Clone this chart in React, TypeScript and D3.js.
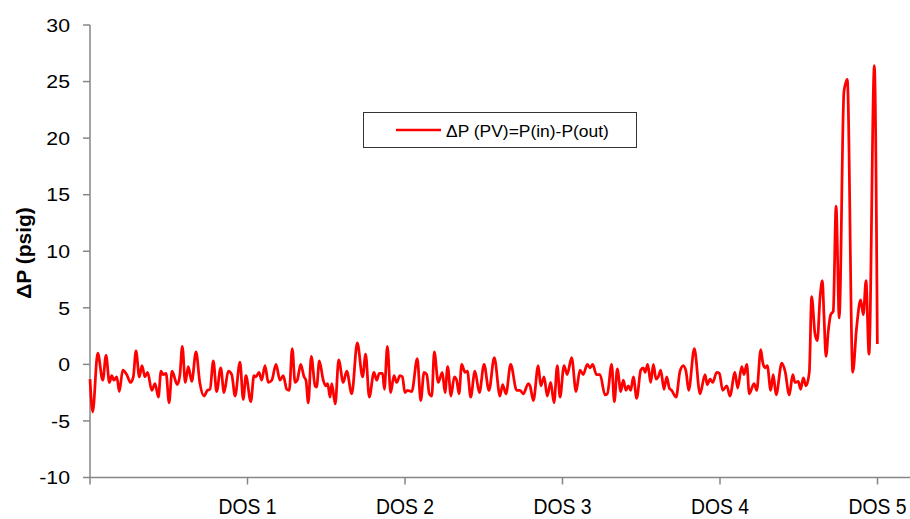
import React from "react";
import * as d3 from "d3";

// time in DOS (days on stream)
const dosT = [
  0.000, 0.017, 0.049, 0.081, 0.102, 0.123, 0.138, 0.152, 0.170, 0.186,
  0.208, 0.233, 0.258, 0.275, 0.292, 0.313, 0.330, 0.349, 0.366, 0.392,
  0.413, 0.434, 0.451, 0.465, 0.483, 0.502, 0.521, 0.554, 0.571, 0.586,
  0.605, 0.624, 0.646, 0.673, 0.698, 0.724, 0.745, 0.762, 0.783, 0.804,
  0.830, 0.851, 0.878, 0.900, 0.921, 0.952, 0.973, 0.990, 1.021, 1.041,
  1.054, 1.073, 1.090, 1.111, 1.132, 1.154, 1.181, 1.206, 1.227, 1.249,
  1.265, 1.284, 1.302, 1.316, 1.338, 1.359, 1.371, 1.386, 1.405, 1.429,
  1.439, 1.456, 1.481, 1.497, 1.509, 1.524, 1.535, 1.557, 1.579, 1.608,
  1.630, 1.662, 1.697, 1.731, 1.750, 1.773, 1.803, 1.820, 1.837, 1.858,
  1.869, 1.888, 1.909, 1.930, 1.947, 1.968, 1.983, 2.000, 2.015, 2.043,
  2.078, 2.100, 2.121, 2.138, 2.154, 2.170, 2.186, 2.211, 2.237, 2.254,
  2.271, 2.292, 2.313, 2.328, 2.343, 2.360, 2.381, 2.396, 2.417, 2.444,
  2.472, 2.502, 2.533, 2.567, 2.603, 2.620, 2.641, 2.671, 2.709, 2.730,
  2.751, 2.783, 2.794, 2.815, 2.846, 2.862, 2.883, 2.903, 2.925, 2.946,
  2.967, 2.984, 3.010, 3.030, 3.058, 3.086, 3.111, 3.132, 3.157, 3.175,
  3.192, 3.215, 3.238, 3.270, 3.285, 3.312, 3.329, 3.348, 3.370, 3.386,
  3.403, 3.418, 3.433, 3.450, 3.471, 3.497, 3.513, 3.524, 3.541, 3.560,
  3.577, 3.594, 3.608, 3.624, 3.644, 3.662, 3.678, 3.693, 3.721, 3.746,
  3.767, 3.784, 3.801, 3.837, 3.873, 3.905, 3.919, 3.937, 3.954, 3.979,
  3.996, 4.017, 4.043, 4.063, 4.095, 4.112, 4.138, 4.152, 4.170, 4.186,
  4.216, 4.233, 4.259, 4.271, 4.286, 4.300, 4.322, 4.338, 4.356, 4.392,
  4.413, 4.440, 4.462, 4.476, 4.497, 4.512, 4.529, 4.546, 4.567, 4.582,
  4.603, 4.618, 4.635, 4.650, 4.660, 4.673, 4.688, 4.703, 4.719, 4.737,
  4.757, 4.787, 4.808, 4.843, 4.867, 4.893, 4.910, 4.927, 4.946, 4.980,
  4.999,
];

// ΔP (PV) = P(in) - P(out), psig
const dpValues = [
  -1.3, -4.2, 1.0, -1.4, 0.8, -1.6, -1.0, -1.4, -1.1, -2.4,
  -0.5, -0.9, -1.6, -1.1, 1.2, -1.1, -0.1, -1.1, -0.7, -2.3,
  -1.7, -2.9, -0.6, -0.9, -0.8, -3.4, -0.6, -1.8, -0.9, 1.6,
  -1.6, -0.2, -1.5, 1.1, -1.7, -2.8, -2.3, -2.2, 0.3, -2.4,
  -0.3, -2.5, -0.6, -0.9, -2.8, 0.2, -3.1, -1.0, -3.3, -1.0,
  -1.1, -0.7, -1.4, -0.1, -1.6, -1.4, 0.0, -1.4, -1.0, -2.2,
  -2.3, 1.4, -1.6, -1.4, 0.0, -1.1, -1.4, -3.4, 0.7, -1.9,
  -2.0, 0.3, -1.4, -1.9, -1.7, -2.9, -1.7, -3.5, 0.4, -1.6,
  -0.6, -2.6, 1.9, -1.1, 0.9, -2.9, -0.7, -1.4, -0.8, -0.8,
  -2.2, 1.6, -2.5, -1.0, -1.6, -1.0, -1.1, -2.5, -2.3, -2.4,
  0.5, -3.2, -0.7, -0.9, -2.6, -2.8, 1.1, -1.6, -0.7, -2.5,
  -0.2, -2.8, -1.1, -1.4, -2.6, 0.0, -0.7, -0.6, -2.9, -0.6,
  -2.5, 0.0, -2.3, 0.6, -2.8, -1.8, -2.6, 0.0, -2.3, -2.3,
  -2.6, -1.7, -1.9, -3.2, -0.1, -1.9, -1.1, -2.8, -1.6, -3.4,
  -0.1, -2.9, -0.1, -0.9, 0.6, -2.4, -0.5, -0.9, 0.0, -0.3,
  0.0, -0.9, -0.9, -2.7, -2.6, 0.0, -3.3, -0.4, -2.4, -1.4,
  -2.3, -1.9, -2.3, -1.1, -3.0, -0.5, -0.3, -0.7, 0.0, -1.6,
  0.0, -1.3, -1.1, -0.5, -2.2, -1.1, -2.1, -2.3, -2.9, -0.6,
  -0.1, -0.6, -2.3, 1.4, -2.6, -0.9, -1.8, -1.3, -1.6, -0.7,
  -0.8, -2.3, -1.9, -2.8, -0.7, -2.1, -0.2, -0.9, 0.0, -2.6,
  -1.7, -2.3, 1.3, 0.2, -0.3, -0.1, -2.3, -0.9, -2.7, 0.1,
  -0.6, -2.7, -0.9, -1.6, -1.5, -2.2, -1.2, -1.9, -0.7, 6.0,
  2.7, 2.1, 5.9, 7.4, 4.4, 0.7, 3.0, 4.4, 4.7, 14.0,
  4.1, 24.1, 25.2, -0.7, 3.2, 5.7, 4.4, 7.4, 0.9, 26.4,
  1.8,
];

const yTicks = [-10, -5, 0, 5, 10, 15, 20, 25, 30];
const xTickDos = [0, 1, 2, 3, 4, 5];
const xLabels = ["DOS 1", "DOS 2", "DOS 3", "DOS 4", "DOS 5"];
const seriesName = "ΔP (PV)=P(in)-P(out)";
const yTitle = "ΔP (psig)";

const W = 910;
const H = 519;
const plotLeft = 90;
const plotRight = 909;
const plotTop = 25;
const plotBottom = 477.5;

export default function App() {
  const x = d3.scaleLinear().domain([0, 5.2]).range([plotLeft, plotRight]);
  const y = d3.scaleLinear().domain([-10, 30]).range([plotBottom, plotTop]);

  const pts = dosT.map((t, i) => [t, dpValues[i]] as [number, number]);
  const line = d3
    .line<[number, number]>()
    .x((d) => x(d[0]))
    .y((d) => y(d[1]))
    .curve(d3.curveMonotoneX);

  const axisColor = "#868686";
  const sans = "'Liberation Sans', Arial, sans-serif";

  return (
    <svg
      width={W}
      height={H}
      style={{ position: "absolute", left: 0, top: 0, background: "#fff" }}
    >
      <rect x={0} y={0} width={W} height={H} fill="#fff" />
      {/* y axis */}
      <line x1={plotLeft} x2={plotLeft} y1={plotTop} y2={plotBottom} stroke={axisColor} strokeWidth={1.5} />
      {yTicks.map((v) => (
        <g key={"yt" + v}>
          <line x1={plotLeft - 7} x2={plotLeft} y1={y(v)} y2={y(v)} stroke={axisColor} strokeWidth={1.5} />
          <text
            transform={`translate(${plotLeft - 20},${y(v) + 6.8}) scale(1.15,1)`}
            textAnchor="end"
            fontFamily={sans}
            fontSize={18.5}
            fill="#000"
          >
            {v}
          </text>
        </g>
      ))}
      {/* x axis */}
      <line x1={plotLeft} x2={plotRight + 1} y1={plotBottom} y2={plotBottom} stroke={axisColor} strokeWidth={1.5} />
      {xTickDos.map((d) => (
        <line key={"xt" + d} x1={x(d)} x2={x(d)} y1={plotBottom} y2={plotBottom + 7} stroke={axisColor} strokeWidth={1.5} />
      ))}
      {xLabels.map((lab, i) => (
        <text
          key={lab}
          transform={`translate(${x(i + 1)},513.5) scale(0.9,1)`}
          textAnchor="middle"
          fontFamily={sans}
          fontSize={21.5}
          fill="#000"
        >
          {lab}
        </text>
      ))}
      {/* y title */}
      <text
        transform={`translate(31,253) rotate(-90)`}
        textAnchor="middle"
        fontFamily={sans}
        fontWeight="bold"
        fontSize={21}
        fill="#000"
      >
        {yTitle}
      </text>
      {/* series */}
      <path d={line(pts) || ""} fill="none" stroke="#FF0000" strokeWidth={2.75} strokeLinejoin="round" />
      {/* legend */}
      <rect x={363.5} y={112.5} width={273} height={35} fill="#fff" stroke="#333" strokeWidth={1} />
      <line x1={396} x2={441} y1={130} y2={130} stroke="#FF0000" strokeWidth={2.5} />
      <text
        transform={`translate(446,136.5) scale(1.09,1)`}
        fontFamily={sans}
        fontSize={16}
        fill="#000"
      >
        {seriesName}
      </text>
    </svg>
  );
}
